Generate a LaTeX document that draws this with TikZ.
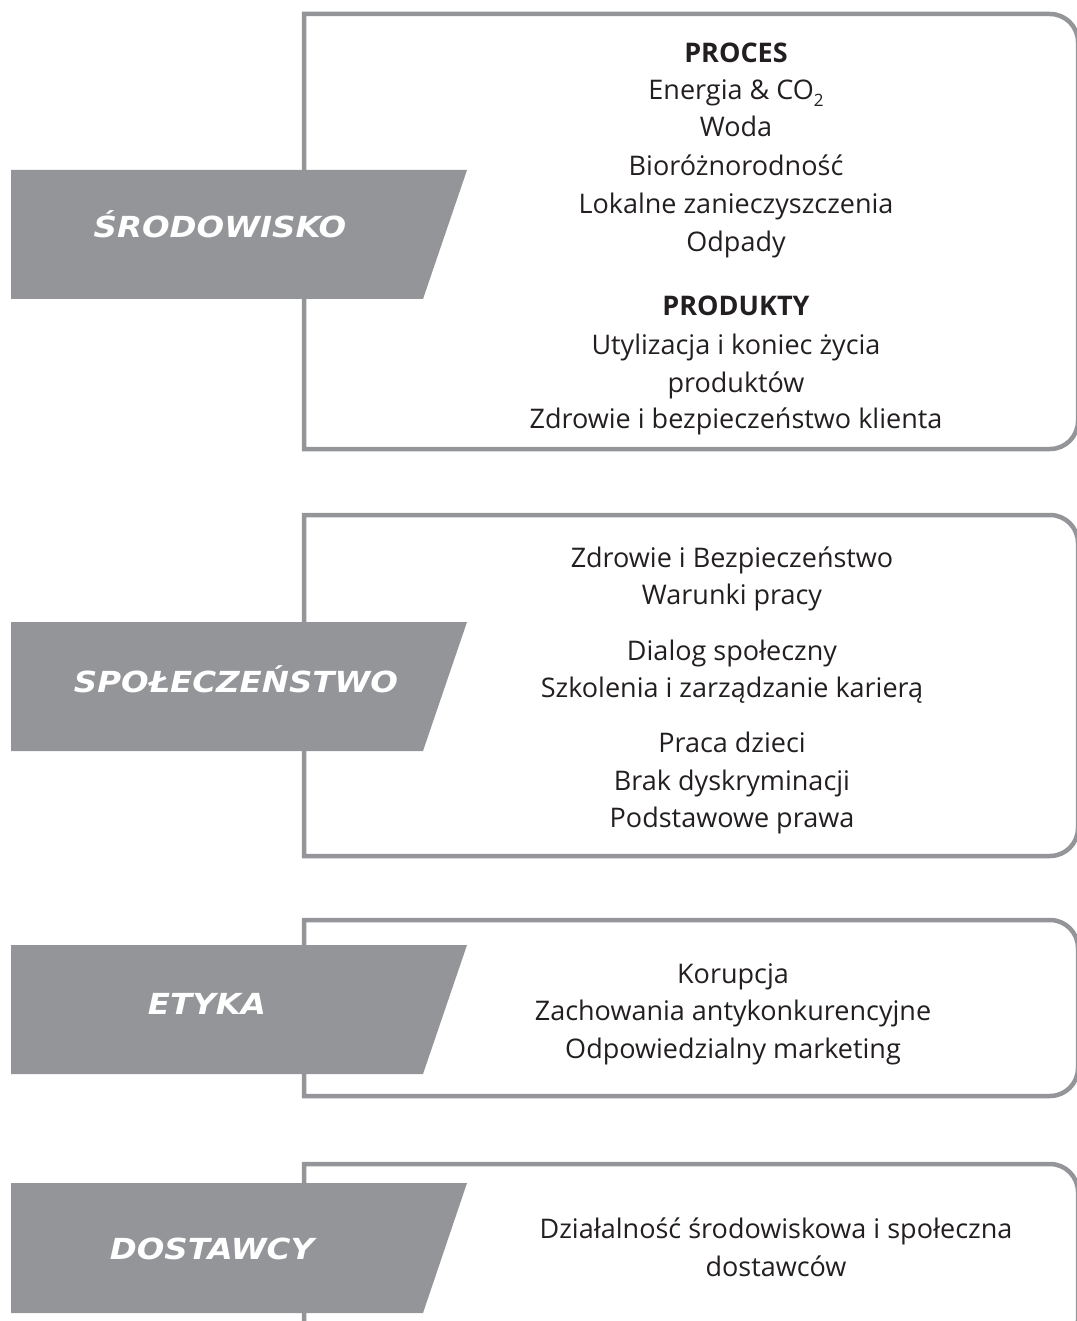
\documentclass[tikz,border=0pt]{standalone}
\usepackage{fontspec}
\setmainfont{Open Sans}
\newfontfamily\tagfont{DejaVu Sans}[FakeStretch=1.12]
\definecolor{tagray}{RGB}{148,149,153}
\definecolor{ink}{RGB}{35,31,32}
\tikzstyle{frame}=[draw=tagray, line width=4.5pt]
\tikzstyle{tagfill}=[fill=tagray]
\tikzstyle{tagtext}=[text=white, anchor=base, inner sep=0, font=\tagfont\bfseries\itshape\fontsize{29}{29}\selectfont]
\tikzstyle{item}=[text=ink, anchor=base, inner sep=0, font=\fontsize{27}{27}\selectfont]
\tikzstyle{head}=[text=ink, anchor=base, inner sep=0, font=\bfseries\fontsize{27}{27}\selectfont]

\begin{document}
\begin{tikzpicture}[x=1pt, y=-1pt]
\useasboundingbox (0,0) rectangle (1076,1321);

\draw[frame] (304,14) -- (1050,14) arc[start angle=-90, end angle=0, radius=28] -- (1078,421) arc[start angle=0, end angle=90, radius=28] -- (304,449) -- cycle;
\draw[frame] (304,515) -- (1050,515) arc[start angle=-90, end angle=0, radius=28] -- (1078,828) arc[start angle=0, end angle=90, radius=28] -- (304,856) -- cycle;
\draw[frame] (304,920) -- (1050,920) arc[start angle=-90, end angle=0, radius=28] -- (1078,1068) arc[start angle=0, end angle=90, radius=28] -- (304,1096) -- cycle;
\draw[frame] (304,1164) -- (1050,1164) arc[start angle=-90, end angle=0, radius=28] -- (1078,1320) arc[start angle=0, end angle=90, radius=28] -- (304,1348) -- cycle;

\fill[tagfill] (11,170) -- (467,170) -- (423,299) -- (11,299) -- cycle;
\fill[tagfill] (11,622) -- (467,622) -- (423,751) -- (11,751) -- cycle;
\fill[tagfill] (11,945) -- (467,945) -- (423,1074) -- (11,1074) -- cycle;
\fill[tagfill] (11,1183) -- (467,1183) -- (423,1313) -- (11,1313) -- cycle;

\node[tagtext] (l1) at (220,238) {ŚRODOWISKO};
\node[tagtext] (l2) at (236,692) {SPOŁECZEŃSTWO};
\node[tagtext] (l3) at (207,1014) {ETYKA};
\node[tagtext] (l4) at (212,1259) {DOSTAWCY};

\node[head] (a1) at (736,63) {PROCES};
\node[item] (a2) at (736,100) {Energia \& CO\raisebox{-7pt}{\fontsize{17}{17}\selectfont 2}};
\node[item] (a3) at (736,137) {Woda};
\node[item] (a4) at (736,176) {Bioróżnorodność};
\node[item] (a5) at (736,214) {Lokalne zanieczyszczenia};
\node[item] (a6) at (736,252) {Odpady};
\node[head] (a7) at (736,316) {PRODUKTY};
\node[item] (a8) at (736,354) {Utylizacja i koniec życia};
\node[item] (a9) at (736,392) {produktów};
\node[item] (a10) at (736,428) {Zdrowie i bezpieczeństwo klienta};

\node[item] (b1) at (732,567) {Zdrowie i Bezpieczeństwo};
\node[item] (b2) at (732,604) {Warunki pracy};
\node[item] (b3) at (732,660) {Dialog społeczny};
\node[item] (b4) at (732,697) {Szkolenia i zarządzanie karierą};
\node[item] (b5) at (732,752) {Praca dzieci};
\node[item] (b6) at (732,790) {Brak dyskryminacji};
\node[item] (b7) at (732,827) {Podstawowe prawa};

\node[item] (c1) at (733,983) {Korupcja};
\node[item] (c2) at (733,1020) {Zachowania antykonkurencyjne};
\node[item] (c3) at (733,1058) {Odpowiedzialny marketing};

\node[item] (d1) at (776,1238) {Działalność środowiskowa i społeczna};
\node[item] (d2) at (776,1276) {dostawców};

\end{tikzpicture}
\end{document}
